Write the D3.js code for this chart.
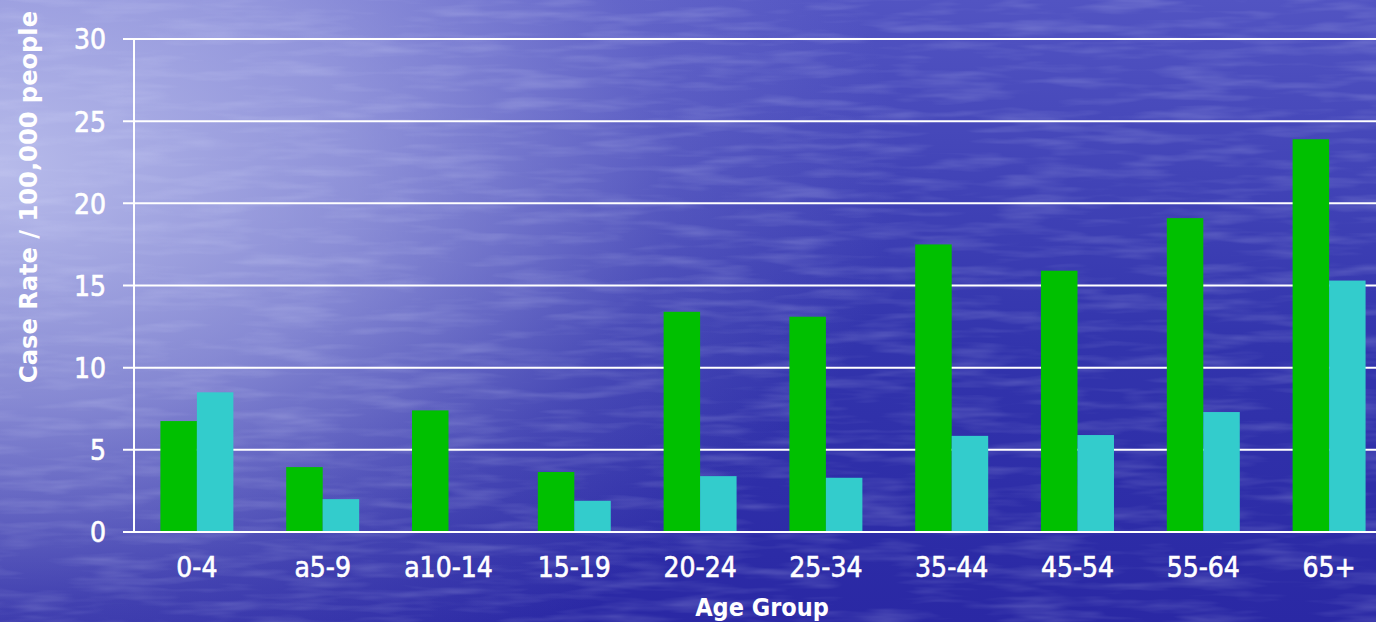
<!DOCTYPE html>
<html>
<head>
<meta charset="UTF-8" />
<title>Case Rate by Age Group</title>
<script src="https://d3js.org/d3.v7.min.js"></script>
<style>
  html, body { margin: 0; padding: 0; overflow: hidden; }
  body { width: 1376px; height: 622px; }
  text { font-family: "DejaVu Sans Condensed", "DejaVu Sans", sans-serif; fill: #fff; }
  .tick-label { stroke: #fff; stroke-width: 0.6px; }
</style>
</head>
<body>
<div id="chart"></div>
<script>
// data
const ageGroups = ["0-4", "a5-9", "a10-14", "15-19", "20-24", "25-34", "35-44", "45-54", "55-64", "65+"];
const greenValues = [6.75, 3.95, 7.4, 3.65, 13.4, 13.1, 17.5, 15.9, 19.1, 23.9];
const cyanValues  = [8.5, 2.0, 0, 1.9, 3.4, 3.3, 5.85, 5.9, 7.3, 15.3];
const yTicks = [0, 5, 10, 15, 20, 25, 30];

const W = 1376, H = 622;
const margin = { left: 134, top: 39, bottom: 90 };
const plotW = 1258;   // last band runs past the right edge, like the original
const plotH = H - margin.top - margin.bottom;

const svg = d3.select("#chart").append("svg")
  .attr("width", W).attr("height", H);

const defs = svg.append("defs");

// base: darker toward the bottom
const base = defs.append("linearGradient")
  .attr("id", "base").attr("x1", 0).attr("y1", 0).attr("x2", 0).attr("y2", 1);
base.append("stop").attr("offset", "0%").attr("stop-color", "#5254c2");
base.append("stop").attr("offset", "56%").attr("stop-color", "#3234ac");
base.append("stop").attr("offset", "100%").attr("stop-color", "#2a28a4");

// lavender glow from the top-left corner
const glow = defs.append("radialGradient")
  .attr("id", "glow")
  .attr("gradientUnits", "userSpaceOnUse")
  .attr("cx", 0).attr("cy", 0).attr("r", 1)
  .attr("gradientTransform", "translate(0,170) scale(900,580)");
glow.append("stop").attr("offset", "0%").attr("stop-color", "#c4c8f0").attr("stop-opacity", 0.9);
glow.append("stop").attr("offset", "40%").attr("stop-color", "#c4c8f0").attr("stop-opacity", 0.58);
glow.append("stop").attr("offset", "75%").attr("stop-color", "#c4c8f0").attr("stop-opacity", 0.15);
glow.append("stop").attr("offset", "100%").attr("stop-color", "#c4c8f0").attr("stop-opacity", 0);

// faint water ripples
const f = defs.append("filter").attr("id", "ripple")
  .attr("x", 0).attr("y", 0).attr("width", "100%").attr("height", "100%");
f.append("feTurbulence")
  .attr("type", "fractalNoise")
  .attr("baseFrequency", "0.012 0.09")
  .attr("numOctaves", 3)
  .attr("seed", 7);
f.append("feColorMatrix")
  .attr("type", "matrix")
  .attr("values", "0 0 0 0 0.75  0 0 0 0 0.78  0 0 0 0 1  0 0 0 1.6 -0.7");

svg.append("rect").attr("width", W).attr("height", H).attr("fill", "url(#base)");
svg.append("rect").attr("width", W).attr("height", H).attr("fill", "url(#glow)");
svg.append("rect").attr("width", W).attr("height", H)
  .attr("filter", "url(#ripple)").attr("opacity", 0.25);

const x0 = d3.scaleBand()
  .domain(ageGroups)
  .range([margin.left, margin.left + plotW])
  .paddingInner(0.42)
  .paddingOuter(0.21);

const x1 = d3.scaleBand()
  .domain(["green", "cyan"])
  .range([0, x0.bandwidth()]);

const y = d3.scaleLinear()
  .domain([0, 30])
  .range([margin.top + plotH, margin.top]);

// gridlines + tick marks
svg.append("g")
  .selectAll("line")
  .data(yTicks)
  .join("line")
  .attr("x1", margin.left - 11)
  .attr("x2", W)
  .attr("y1", d => y(d))
  .attr("y2", d => y(d))
  .attr("stroke", "#fff")
  .attr("stroke-width", 2);

svg.append("line")
  .attr("x1", margin.left).attr("x2", margin.left)
  .attr("y1", y(30)).attr("y2", y(0))
  .attr("stroke", "#fff").attr("stroke-width", 2);

// y tick labels
svg.append("g")
  .selectAll("text")
  .data(yTicks)
  .join("text")
  .attr("class", "tick-label")
  .attr("x", 106)
  .attr("y", d => y(d))
  .attr("dy", "0.37em")
  .attr("text-anchor", "end")
  .attr("font-size", 28)
  .text(d => d);

// bars
const groups = svg.append("g")
  .selectAll("g")
  .data(ageGroups)
  .join("g")
  .attr("transform", d => `translate(${x0(d)},0)`);

groups.append("rect")
  .attr("x", x1("green"))
  .attr("width", x1.bandwidth())
  .attr("y", (d, i) => y(greenValues[i]))
  .attr("height", (d, i) => y(0) - y(greenValues[i]) - 1)
  .attr("fill", "#00c000");

groups.append("rect")
  .attr("x", x1("cyan"))
  .attr("width", x1.bandwidth())
  .attr("y", (d, i) => y(cyanValues[i]))
  .attr("height", (d, i) => Math.max(0, y(0) - y(cyanValues[i]) - 1))
  .attr("fill", "#33cccc");

// x labels
svg.append("g")
  .selectAll("text")
  .data(ageGroups)
  .join("text")
  .attr("class", "tick-label")
  .attr("x", d => x0(d) + x0.bandwidth() / 2)
  .attr("y", 577)
  .attr("text-anchor", "middle")
  .attr("font-size", 28)
  .text(d => d);

// axis titles
svg.append("text")
  .attr("x", 762).attr("y", 616)
  .attr("text-anchor", "middle")
  .attr("font-size", 25)
  .attr("font-weight", "bold")
  .text("Age Group");

svg.append("text")
  .attr("transform", "translate(37,197) rotate(-90)")
  .attr("text-anchor", "middle")
  .attr("font-size", 25)
  .attr("font-weight", "bold")
  .attr("textLength", 372)
  .attr("lengthAdjust", "spacingAndGlyphs")
  .text("Case Rate / 100,000 people");
</script>
</body>
</html>
